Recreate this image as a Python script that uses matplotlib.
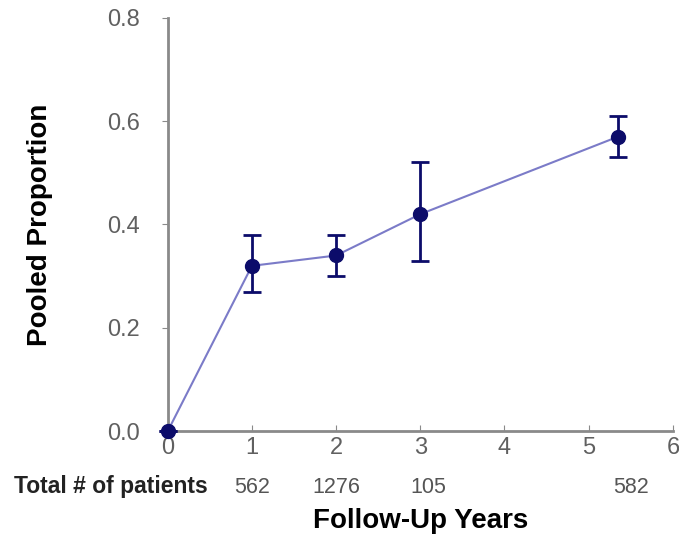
import matplotlib
matplotlib.use('Agg')
import matplotlib.pyplot as plt

plt.rcParams['font.family'] = ['Liberation Sans', 'DejaVu Sans']

# Data
years = [0, 1, 2, 3, 5.35]
proportion = [0.0, 0.32, 0.34, 0.42, 0.57]
ci_low = [0.0, 0.27, 0.30, 0.33, 0.53]
ci_high = [0.0, 0.38, 0.38, 0.52, 0.61]

# patient counts shown under the axis
count_x = [1, 2, 3.1, 5.5]
patients = ['562', '1276', '105', '582']

err_low = [p - lo for p, lo in zip(proportion, ci_low)]
err_high = [hi - p for p, hi in zip(proportion, ci_high)]

fig = plt.figure(figsize=(6.79, 5.39), dpi=100)
ax = fig.add_axes([0.247, 0.2, 0.744, 0.767])

# Line connecting the points
ax.plot(years, proportion, color='#7b7bc8', linewidth=1.5, zorder=2)
# Error bars and markers
ax.errorbar(years, proportion, yerr=[err_low, err_high], fmt='o', color='#0c0c6a',
            markersize=10, elinewidth=2, capsize=6.5, capthick=2, zorder=3,
            clip_on=False)

ax.set_xlim(0, 6)
ax.set_ylim(0, 0.8)
ax.set_xticks(range(7))
ax.set_yticks([0.0, 0.2, 0.4, 0.6, 0.8])
ax.set_yticklabels(['0.0', '0.2', '0.4', '0.6', '0.8'])

for s in ['top', 'right']:
    ax.spines[s].set_visible(False)
for s in ['left', 'bottom']:
    ax.spines[s].set_color('#8a8a8a')
    ax.spines[s].set_linewidth(2)

ax.tick_params(axis='x', direction='in', length=4, color='#8a8a8a',
               labelsize=17, labelcolor='#606060', pad=4)
ax.tick_params(axis='y', direction='out', length=4, color='#8a8a8a',
               labelsize=17, labelcolor='#606060', pad=16)

ax.set_ylabel('Pooled Proportion', fontsize=20, fontweight='bold')
ax.yaxis.set_label_coords(-0.228, 0.5)
ax.set_xlabel('Follow-Up Years', fontsize=20, fontweight='bold')
ax.xaxis.set_label_coords(0.5, -0.186)

# Patient counts under the x-axis
trans = ax.get_xaxis_transform()
for x, n in zip(count_x, patients):
    ax.text(x, -0.135, n, transform=trans, ha='center', va='center',
            fontsize=15.5, color='#555555')
fig.text(0.02, 0.098, 'Total # of patients', ha='left', va='center',
         fontsize=16.5, fontweight='bold', color='#222222')

fig.savefig('out.png', dpi=100)
